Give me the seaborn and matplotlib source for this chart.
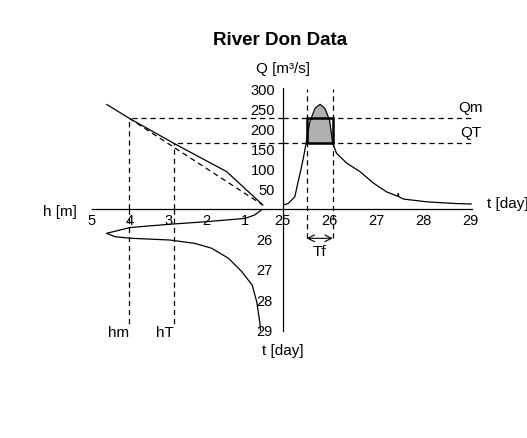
import numpy as np
import matplotlib
matplotlib.use('Agg')
import matplotlib.pyplot as plt
from matplotlib.patches import Rectangle
import seaborn as sns

# discharge hydrograph Q(t)
t_hyd = [25.01, 25.12, 25.26, 25.33, 25.38, 25.44, 25.50, 25.58, 25.69, 25.80,
         25.90, 26.00, 26.07, 26.15, 26.37, 26.65, 26.94, 27.22, 27.46, 27.47,
         27.48, 27.58, 28.08, 28.65, 29.03]
q_hyd = [10, 14, 31, 69, 94, 127, 165, 219, 253, 263,
         253, 224, 165, 140, 115, 94, 65, 43, 32, 39,
         31, 25, 18, 14, 12.5]

# rating curve Q(h)
h_rat = [4.61, 4.02, 2.85, 1.47, 0.52]
q_rat = [263, 228, 165, 94, 10]
h_rat_lin = [4.02, 0.52]
q_rat_lin = [228, 10]

# stage hydrograph h(t)
h_stage = [0.52, 0.74, 0.99, 2.03, 2.95, 4.0, 4.61, 4.39, 4.0, 2.95,
           2.30, 1.86, 1.42, 1.07, 0.80, 0.68, 0.59, 0.58]
t_stage = [25.0, 25.2, 25.31, 25.42, 25.50, 25.61, 25.80, 25.91, 25.96, 26.02,
           26.13, 26.29, 26.62, 27.06, 27.50, 28.05, 28.81, 29.0]

q_m = 228
q_t = 165
h_m = 4.02
h_t = 2.85
t_f1 = 25.51
t_f2 = 26.07

q_ticks = [50, 100, 150, 200, 250, 300]
t_ticks = [25, 26, 27, 28, 29]
h_ticks = [5, 4, 3, 2, 1]
t_ticks_low = [26, 27, 28, 29]

sns.set_theme(style='white', rc={'text.color': 'black', 'xtick.color': 'black',
                                 'ytick.color': 'black', 'axes.edgecolor': 'black',
                                 'axes.labelcolor': 'black'})
plt.rcParams['font.family'] = ['Liberation Sans', 'DejaVu Sans']

W, H = 527, 438
fig = plt.figure(figsize=(W / 100, H / 100), dpi=100)

x0, y0 = 282.7, 209.0
x_right = 471.7
y_top = 88.5
y_bot = 330.7
px_h = 38.2
x_left = x0 - 5 * px_h


def rect(l, t, r, b):
    return [l / W, 1 - b / H, (r - l) / W, (b - t) / H]


ax_q = fig.add_axes(rect(x0, y_top, x_right, y0))
ax_h = fig.add_axes(rect(x_left, y_top, x0, y0))
ax_s = fig.add_axes(rect(x_left, y0, x0, y_bot))
ax_d = fig.add_axes(rect(x0, y0, x_right, y_bot))

t_max = 25 + (x_right - x0) / 46.8
q_max = (y0 - y_top) / 0.398
ax_q.set_xlim(25, t_max)
ax_q.set_ylim(0, q_max)
ax_h.set_xlim(5, 0)
ax_h.set_ylim(0, q_max)
ax_s.set_xlim(5, 0)
ax_s.set_ylim(29, 25)
ax_d.set_xlim(0, 1)
ax_d.set_ylim(29, 25)

for ax in (ax_q, ax_h, ax_s, ax_d):
    ax.set_facecolor('none')
    for s in ax.spines.values():
        s.set_visible(False)
        s.set_linewidth(0.9)
    ax.tick_params(length=0, labelsize=10.5)
    ax.set_xticks([])
    ax.set_yticks([])

ax_q.spines['left'].set_visible(True)
ax_q.spines['bottom'].set_visible(True)
ax_h.spines['bottom'].set_visible(True)
ax_d.spines['left'].set_visible(True)

ax_q.set_xticks(t_ticks)
ax_q.set_yticks(q_ticks)
ax_q.tick_params(axis='x', pad=3.8)
ax_q.tick_params(axis='y', pad=5.5)
ax_h.set_xticks(h_ticks)
ax_h.tick_params(axis='x', pad=3.8)
ax_d.set_yticks(t_ticks_low)
ax_d.tick_params(axis='y', pad=7.5)

lw = 0.9
dash = (4.2, 3.1)

# curves
ax_q.fill_between(t_hyd, q_hyd, q_t, where=np.array(q_hyd) >= q_t,
                  interpolate=True, color='#b0b0b0', lw=0)
sns.lineplot(x=t_hyd, y=q_hyd, ax=ax_q, color='black', lw=lw, estimator=None, sort=False)
sns.lineplot(x=h_rat, y=q_rat, ax=ax_h, color='black', lw=lw, estimator=None, sort=False)
sns.lineplot(x=h_rat_lin, y=q_rat_lin, ax=ax_h, color='black', lw=lw,
             estimator=None, sort=False, dashes=False, linestyle=(0, dash))
sns.lineplot(x=h_stage, y=t_stage, ax=ax_s, color='black', lw=lw, estimator=None, sort=False)

# Qm / QT guides
for qv in (q_m, q_t):
    ax_q.plot([25, t_max], [qv, qv], color='black', lw=lw, linestyle=(0, dash))
for hv, qv in ((h_m, q_m), (h_t, q_t)):
    ax_h.plot([0, hv], [qv, qv], color='black', lw=lw, linestyle=(0, dash))
    ax_h.plot([hv, hv], [0, qv], color='black', lw=lw, linestyle=(0, dash))
    ax_s.plot([hv, hv], [25, 28.88], color='black', lw=lw, linestyle=(0, dash))

# flood duration
q_arrow = -(238.3 - y0) / 0.398
for tv in (t_f1, t_f2):
    ax_q.plot([tv, tv], [q_arrow, 302], color='black', lw=lw, linestyle=(0, dash),
              clip_on=False)
ax_q.add_patch(Rectangle((t_f1, q_t), t_f2 - t_f1, q_m - q_t, fill=False,
                         ec='black', lw=1.8, zorder=5))
ax_q.annotate('', xy=(t_f1, q_arrow), xytext=(t_f2, q_arrow),
              arrowprops=dict(arrowstyle='<->', color='black', lw=0.8,
                              shrinkA=0, shrinkB=0), annotation_clip=False)

fs = 11
ax_q.text((t_f1 + t_f2) / 2, -(251.7 - y0) / 0.398, 'Tf', ha='center', va='center',
          fontsize=fs, clip_on=False)
ax_q.text(29.02, (y0 - 108) / 0.398, 'Qm', ha='center', va='center', fontsize=fs,
          clip_on=False)
ax_q.text(29.02, (y0 - 132.7) / 0.398, 'QT', ha='center', va='center', fontsize=fs,
          clip_on=False)
ax_q.text(25, (y0 - 69) / 0.398, 'Q [m³/s]', ha='center', va='center', fontsize=fs,
          clip_on=False)
ax_q.text(29.36, (y0 - 203.5) / 0.398, 't [day]', ha='left', va='center', fontsize=fs,
          clip_on=False)
ax_h.text(5.82, (y0 - 211.7) / 0.398, 'h [m]', ha='center', va='center', fontsize=fs,
          clip_on=False)
ax_s.text(h_m, 29.07, 'hm', ha='right', va='center', fontsize=fs, clip_on=False)
ax_s.text(h_t, 29.07, 'hT', ha='right', va='center', fontsize=fs, clip_on=False)
ax_s.text(0, 25 + (351 - y0) / 30.43, 't [day]', ha='center', va='center', fontsize=fs,
          clip_on=False)

fig.text(280 / W, 1 - 40.7 / H, 'River Don Data', ha='center', va='center',
         fontsize=13.5, fontweight='bold')

fig.savefig('out.png', dpi=100)
